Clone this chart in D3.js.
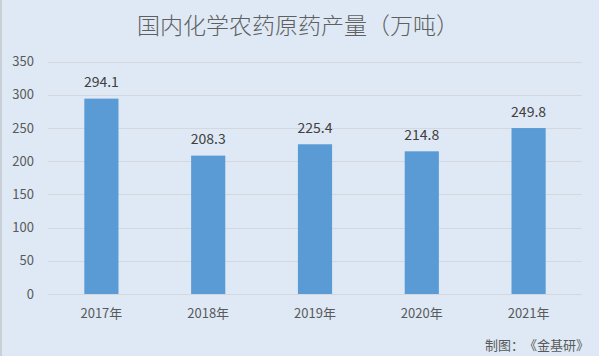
<!DOCTYPE html>
<html><head><meta charset="utf-8">
<script src="https://cdn.jsdelivr.net/npm/d3@7"></script>
<style>
html,body{margin:0;padding:0;background:#dee9f5;}
svg{display:block;}
svg text{text-spacing-trim: space-all;}
</style></head>
<body>
<script>
const categories = ["2017年","2018年","2019年","2020年","2021年"];
const values = [294.1, 208.3, 225.4, 214.8, 249.8];
const yTicks = [0,50,100,150,200,250,300,350];
const title = "国内化学农药原药产量（万吨）";
const credit = "制图：《金基研》";

const W = 599, H = 356;
const font = "'Noto Sans CJK SC', 'Noto Sans', sans-serif";
const svg = d3.select("body").append("svg").attr("width", W).attr("height", H);
svg.append("rect").attr("width", W).attr("height", H).attr("fill", "#dee9f5");
svg.append("rect").attr("x",0).attr("y",0).attr("width",2).attr("height",H).attr("fill","#c9d0d8");

const x = d3.scaleBand().domain(categories).range([48, 582]).paddingInner(0.68).paddingOuter(0.34);
const y = d3.scaleLinear().domain([0, 350]).range([294, 61.5]);

// gridlines
svg.append("g").selectAll("line").data(yTicks).join("line")
  .attr("x1", 48).attr("x2", 582)
  .attr("y1", d => Math.round(y(d)) + 0.5).attr("y2", d => Math.round(y(d)) + 0.5)
  .attr("stroke", "#d4d8dd").attr("stroke-width", 1);

// y axis labels
const yAxis = d3.axisLeft(y).tickValues(yTicks).tickSize(0).tickPadding(0);
const gy = svg.append("g").attr("transform", "translate(34,0)").call(yAxis);
gy.select(".domain").remove();
gy.selectAll("text").attr("font-family", font).attr("font-size", 13).attr("fill", "#595959");

// x axis labels
const xAxis = d3.axisBottom(x).tickSize(0).tickPadding(0);
const gx = svg.append("g").attr("transform", "translate(0,308.5)").call(xAxis);
gx.select(".domain").remove();
gx.selectAll("text").attr("font-family", font).attr("font-size", 13).attr("fill", "#595959");

// bars
svg.append("g").selectAll("rect").data(values).join("rect")
  .attr("x", (d,i) => x(categories[i]))
  .attr("width", x.bandwidth())
  .attr("y", d => y(d))
  .attr("height", d => y(0) - y(d))
  .attr("fill", "#5b9bd5");

// value labels
svg.append("g").selectAll("text").data(values).join("text")
  .attr("x", (d,i) => x(categories[i]) + x.bandwidth()/2)
  .attr("y", d => y(d) - 11.5)
  .attr("text-anchor", "middle")
  .attr("font-family", font).attr("font-size", 14).attr("fill", "#404040")
  .text(d => d.toFixed(1));

// title
svg.append("text").attr("x", 137).attr("y", 34).attr("text-anchor", "start")
  .attr("font-family", font).attr("font-size", 23).attr("font-weight", 300).attr("fill", "#5f5f5f")
  .text(title);

// credit
svg.append("text").attr("x", 589).attr("y", 350).attr("text-anchor", "end")
  .attr("font-family", font).attr("font-size", 13).attr("fill", "#595959")
  .text(credit);
</script>
</body></html>
